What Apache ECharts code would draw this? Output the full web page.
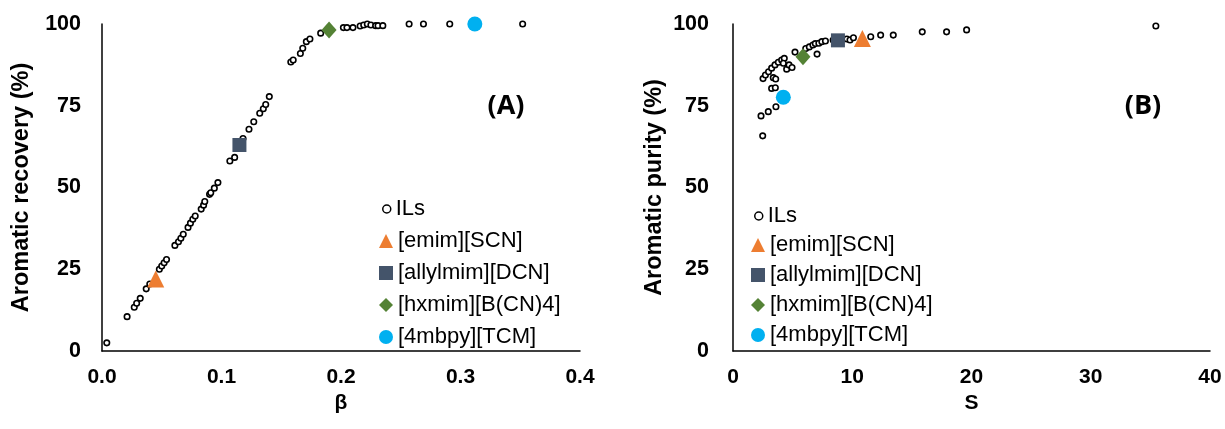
<!DOCTYPE html>
<html>
<head>
<meta charset="utf-8">
<script src="https://cdn.jsdelivr.net/npm/echarts@6/dist/echarts.min.js"></script>
<style>
html,body{margin:0;padding:0;background:#fff;}
#chart{width:1225px;height:429px;}
</style>
</head>
<body>
<div id="chart"></div>
<script>
// ---------- DATA ----------
const seriesNames = ['ILs', '[emim][SCN]', '[allylmim][DCN]', '[hxmim][B(CN)4]', '[4mbpy][TCM]'];

// Panel A: beta vs aromatic recovery (%)
const ilsA = [
  [0.004, 2.5], [0.021, 10.5], [0.027, 13.4], [0.029, 14.6], [0.032, 16.1], [0.037, 19.0], [0.040, 20.5],
  [0.048, 25.0], [0.050, 26.0], [0.052, 27.0], [0.054, 28.0], [0.061, 32.3], [0.064, 33.4], [0.066, 34.5],
  [0.068, 35.7], [0.072, 37.8], [0.074, 39.1], [0.076, 40.3], [0.078, 41.3], [0.083, 43.4], [0.085, 44.6],
  [0.086, 45.7], [0.090, 47.9], [0.091, 48.4], [0.094, 49.8], [0.097, 51.5], [0.107, 58.1], [0.111, 59.2],
  [0.118, 65.0], [0.123, 67.8], [0.127, 70.1], [0.132, 72.7], [0.135, 74.1], [0.137, 75.4], [0.140, 77.8],
  [0.158, 88.4], [0.160, 89.0], [0.166, 91.0], [0.168, 92.6], [0.171, 94.6], [0.174, 95.4], [0.183, 97.2],
  [0.202, 98.9], [0.205, 98.9], [0.210, 98.9], [0.216, 99.4], [0.219, 99.7], [0.222, 100.0], [0.225, 99.7],
  [0.229, 99.5], [0.231, 99.5], [0.235, 99.5], [0.257, 100.0], [0.269, 100.0], [0.291, 100.0], [0.352, 100.0]
];
const emimA = [[0.045, 22.0]];
const allylA = [[0.115, 63.0]];
const hxmimA = [[0.190, 98.2]];
const mbpyA = [[0.312, 100.0]];

// Panel B: S vs aromatic purity (%)
const ilsB = [
  [2.49, 65.8], [2.35, 71.9], [2.96, 73.2], [3.60, 74.7], [3.24, 80.3], [3.55, 80.5], [3.38, 83.6],
  [3.58, 83.2], [2.52, 83.3], [2.72, 84.4], [2.98, 85.4], [3.24, 86.5], [3.52, 87.5], [3.80, 88.3],
  [4.08, 89.0], [4.30, 89.5], [4.22, 88.0], [4.50, 86.2], [4.70, 87.5], [4.95, 86.7], [5.20, 91.4],
  [6.10, 92.5], [6.40, 93.0], [6.70, 93.6], [6.90, 94.0], [7.05, 90.8], [7.20, 94.1], [7.45, 94.6],
  [7.75, 94.8], [8.40, 95.1], [9.55, 95.4], [9.81, 95.1], [10.10, 95.8], [11.55, 96.1], [12.38, 96.6],
  [13.44, 96.6], [15.87, 97.6], [17.91, 97.6], [19.59, 98.2], [35.46, 99.4]
];
const emimB = [[10.85, 95.6]];
const allylB = [[8.80, 95.0]];
const hxmimB = [[5.87, 90.0]];
const mbpyB = [[4.22, 77.6]];

const xTicksA = [0, 0.1, 0.2, 0.3, 0.4];
const xTicksB = [0, 10, 20, 30, 40];
const yTicks = [0, 25, 50, 75, 100];

// ---------- STYLE ----------
const FONT = '"Liberation Sans", Arial, sans-serif';
const colors = { ils: '#000000', emim: '#ED7D31', allyl: '#44546A', hxmim: '#548235', mbpy: '#00B0F0' };

function axisX(idx, min, max, interval, name, fmt) {
  return {
    gridIndex: idx, type: 'value', min: min, max: max, interval: interval,
    name: name, nameLocation: 'middle', nameGap: 35,
    nameTextStyle: { fontFamily: FONT, fontWeight: 'bold', fontSize: 21, color: '#000' },
    axisLine: { show: true, onZero: false, lineStyle: { color: '#000', width: 1.5 } },
    axisTick: { show: false },
    splitLine: { show: false },
    axisLabel: { fontFamily: FONT, fontWeight: 'bold', fontSize: 21, color: '#000', margin: 16, formatter: fmt }
  };
}
function axisY(idx, name, gap, margin) {
  return {
    gridIndex: idx, type: 'value', min: 0, max: 100, interval: 25,
    name: name, nameLocation: 'middle', nameGap: gap, nameRotate: 90,
    nameTextStyle: { fontFamily: FONT, fontWeight: 'bold', fontSize: 23.5, color: '#000' },
    axisLine: { show: true, lineStyle: { color: '#000', width: 1.5 } },
    axisTick: { show: false },
    splitLine: { show: false },
    axisLabel: { fontFamily: FONT, fontWeight: 'bold', fontSize: 21.5, color: '#000', margin: margin }
  };
}
function mk(name, data, idx, symbol, size, color, z) {
  const s = {
    name: name, type: 'scatter', xAxisIndex: idx, yAxisIndex: idx, data: data,
    symbol: symbol, symbolSize: size, z: z, animation: false,
    itemStyle: { color: color, opacity: 1 }
  };
  if (name === 'ILs') {
    s.itemStyle = { color: '#fff', borderColor: '#000', borderWidth: 1.6, opacity: 1 };
  }
  return s;
}
function legends(left, topILs, topOthers, gapOthers) {
  const ts = { fontFamily: FONT, fontSize: 22, color: '#000', lineHeight: 24 };
  return [
    {
      orient: 'vertical', left: left + 3, top: topILs, itemWidth: 8, itemHeight: 8, itemGap: 8,
      textStyle: ts, selectedMode: false,
      data: [{ name: 'ILs', icon: 'circle', itemStyle: { color: '#fff', borderColor: '#000', borderWidth: 1.5 } }]
    },
    {
      orient: 'vertical', left: left, top: topOthers, itemWidth: 14, itemHeight: 14, itemGap: gapOthers,
      textStyle: ts, selectedMode: false,
      data: [
        { name: '[emim][SCN]', icon: 'triangle' },
        { name: '[allylmim][DCN]', icon: 'rect' },
        { name: '[hxmim][B(CN)4]', icon: 'diamond' },
        { name: '[4mbpy][TCM]', icon: 'circle' }
      ]
    }
  ];
}

const option = {
  animation: false,
  backgroundColor: '#fff',
  grid: [
    { left: 102, right: 645, top: 24, bottom: 78 },
    { left: 733, right: 15, top: 24, bottom: 78 }
  ],
  xAxis: [
    axisX(0, xTicksA[0], xTicksA[xTicksA.length - 1], 0.1, 'β', v => v.toFixed(1)),
    axisX(1, xTicksB[0], xTicksB[xTicksB.length - 1], 10, 'S', v => String(v))
  ],
  yAxis: [
    axisY(0, 'Aromatic recovery (%)', 68, 21),
    axisY(1, 'Aromatic purity (%)', 66, 24)
  ],
  legend: legends(374, 192, 224, 8).concat(legends(746, 199, 228, 6)),
  title: [
    { text: '(A)', left: 501, top: 101, textAlign: 'center', textVerticalAlign: 'middle',
      textStyle: { fontFamily: '"Open Sans", sans-serif', fontWeight: 'bold', fontSize: 27, color: '#000' } },
    { text: '(B)', left: 1138, top: 101, textAlign: 'center', textVerticalAlign: 'middle',
      textStyle: { fontFamily: '"Open Sans", sans-serif', fontWeight: 'bold', fontSize: 27, color: '#000' } }
  ],
  series: [
    mk('ILs', ilsA, 0, 'circle', 5.5, colors.ils, 2),
    mk('[emim][SCN]', emimA, 0, 'triangle', 17, colors.emim, 3),
    mk('[allylmim][DCN]', allylA, 0, 'rect', 14, colors.allyl, 3),
    mk('[hxmim][B(CN)4]', hxmimA, 0, 'diamond', [15, 17], colors.hxmim, 3),
    mk('[4mbpy][TCM]', mbpyA, 0, 'circle', 15, colors.mbpy, 3),
    mk('ILs', ilsB, 1, 'circle', 5.5, colors.ils, 2),
    mk('[emim][SCN]', emimB, 1, 'triangle', 17, colors.emim, 3),
    mk('[allylmim][DCN]', allylB, 1, 'rect', 14, colors.allyl, 3),
    mk('[hxmim][B(CN)4]', hxmimB, 1, 'diamond', [15, 17], colors.hxmim, 3),
    mk('[4mbpy][TCM]', mbpyB, 1, 'circle', 15, colors.mbpy, 3)
  ]
};

const chart = echarts.init(document.getElementById('chart'), null, { renderer: 'canvas' });
chart.setOption(option);
</script>
</body>
</html>
